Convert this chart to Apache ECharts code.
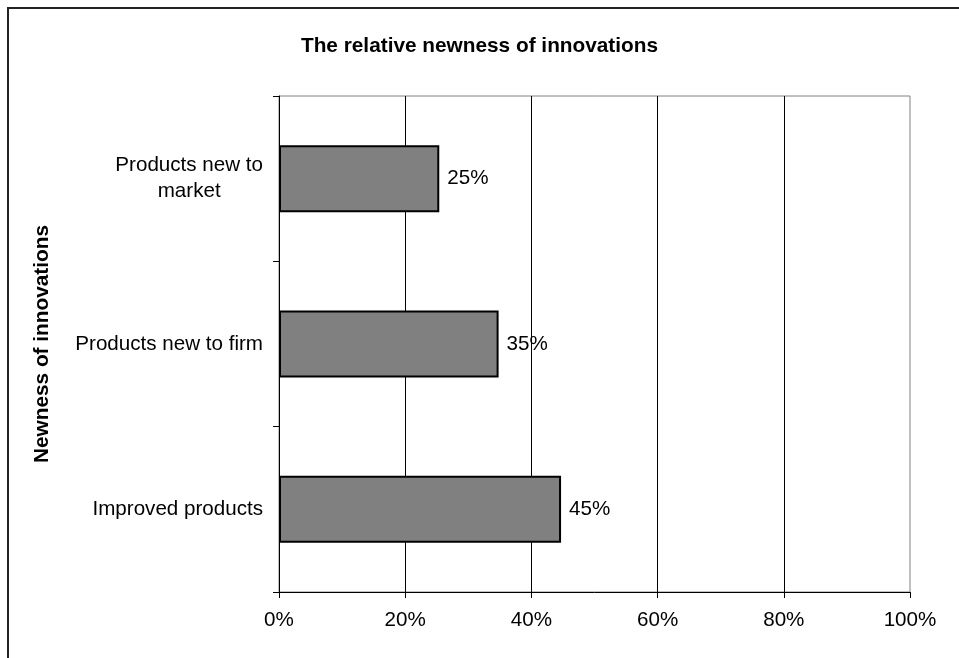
<!DOCTYPE html>
<html>
<head>
<meta charset="utf-8">
<script src="https://cdn.jsdelivr.net/npm/echarts@6/dist/echarts.min.js"></script>
<style>
html,body{margin:0;padding:0;background:#fff;}
#chart{width:959px;height:658px;}
</style>
</head>
<body>
<div id="chart"></div>
<script>
var categories = ['Products new to market', 'Products new to firm', 'Improved products'];
var values = [0.254, 0.348, 0.447];
var xTicks = [0, 0.2, 0.4, 0.6, 0.8, 1];

var FONT = '"Liberation Sans", Arial, sans-serif';
var FS = 20.6;
var chart = echarts.init(document.getElementById('chart'), null, {renderer: 'canvas'});
var option = {
  backgroundColor: '#fff',
  animation: false,
  title: {
    text: 'The relative newness of innovations',
    left: 'center',
    top: 31,
    textStyle: {fontFamily: FONT, fontSize: 20.8, fontWeight: 'bold', color: '#000'}
  },
  graphic: [{
    type: 'rect',
    shape: {x: 8, y: 8, width: 1200, height: 1200},
    style: {fill: null, stroke: '#222', lineWidth: 2},
    silent: true
  }],
  grid: {
    left: 279, right: 49, top: 96, bottom: 66,
    show: true, borderColor: '#808080', borderWidth: 1, backgroundColor: 'transparent'
  },
  xAxis: {
    type: 'value',
    min: 0, max: 1, interval: 0.2,
    axisLine: {show: true, lineStyle: {color: '#000', width: 1}},
    axisTick: {show: true, length: 6, lineStyle: {color: '#000'}},
    splitLine: {show: true, showMaxLine: false, lineStyle: {color: '#000', width: 1}},
    axisLabel: {
      margin: 18, fontFamily: FONT, fontSize: FS, color: '#000',
      formatter: function (v) { return Math.round(v * 100) + '%'; }
    }
  },
  yAxis: {
    type: 'category',
    data: categories,
    inverse: true,
    name: 'Newness of innovations',
    nameLocation: 'middle',
    nameRotate: 90,
    nameGap: 226,
    nameTextStyle: {fontFamily: FONT, fontSize: 20.8, fontWeight: 'bold', color: '#000'},
    axisLine: {show: true, lineStyle: {color: '#000', width: 1}},
    axisTick: {show: true, length: 6, alignWithLabel: false, lineStyle: {color: '#000'}},
    axisLabel: {
      margin: 16, fontFamily: FONT, fontSize: FS, color: '#000', align: 'right',
      formatter: function (v) {
        if (v === 'Products new to market') {
          return '{a|Products new to}\n{b|market}';
        }
        return v;
      },
      rich: {
        a: {fontFamily: FONT, fontSize: FS, color: '#000', lineHeight: 26},
        b: {fontFamily: FONT, fontSize: FS, color: '#000', lineHeight: 26, width: 147, align: 'center'}
      }
    }
  },
  series: [{
    type: 'bar',
    data: values,
    barWidth: 67,
    itemStyle: {color: '#808080', borderColor: '#000', borderWidth: 2},
    label: {
      show: true, position: 'right', distance: 8,
      fontFamily: FONT, fontSize: FS, color: '#000',
      formatter: function (p) { return Math.round(p.value * 100) + '%'; }
    }
  }]
};
chart.setOption(option);
</script>
</body>
</html>
